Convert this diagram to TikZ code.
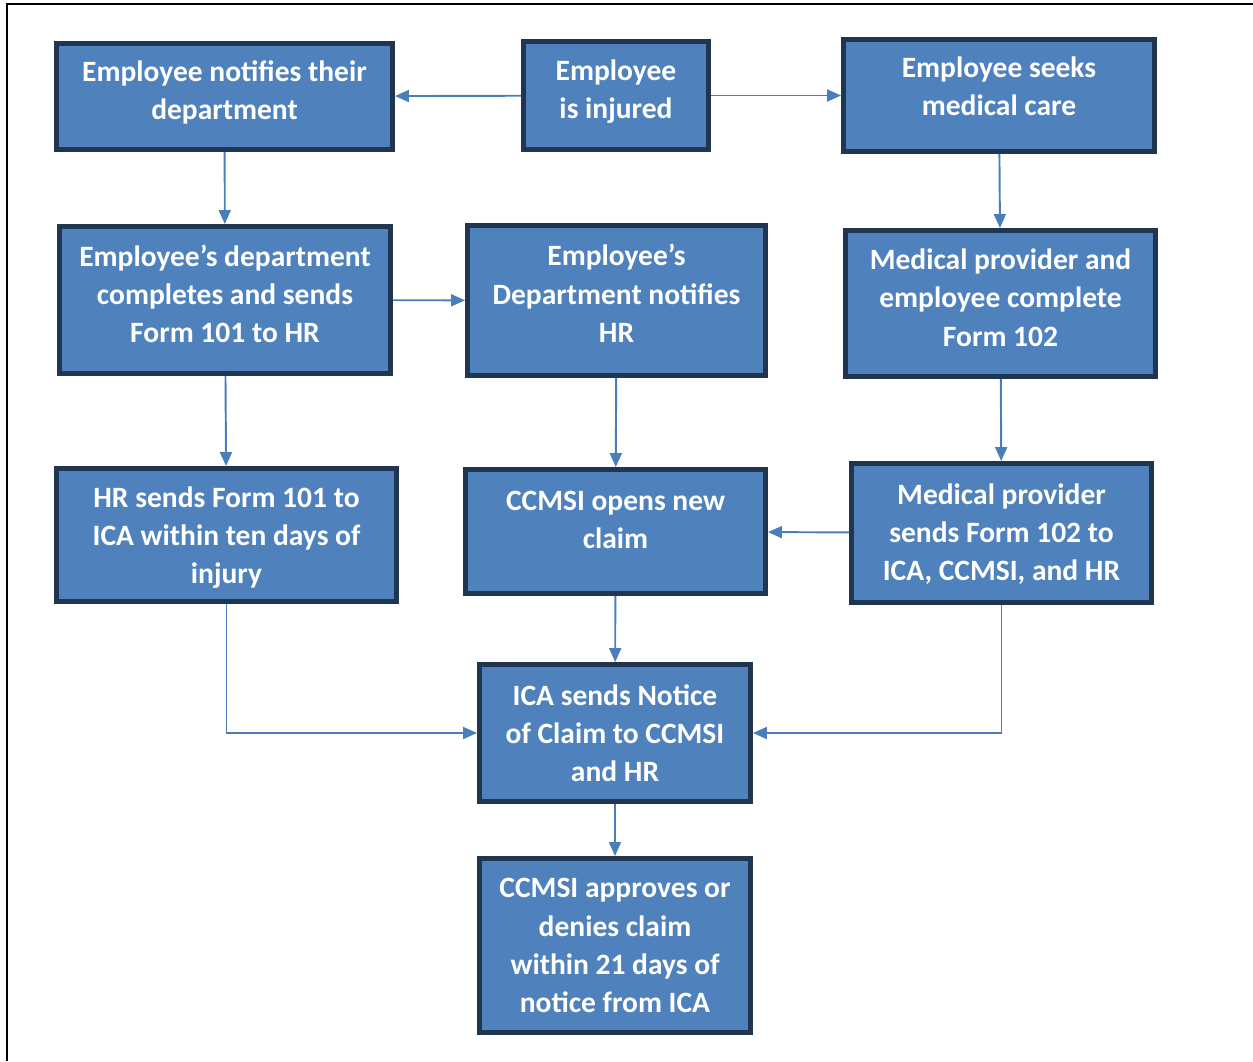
\documentclass[tikz,border=0pt]{standalone}
\usepackage{fontspec}
\setmainfont{Carlito}
\usetikzlibrary{arrows.meta}

\definecolor{boxblue}{HTML}{4F81BD}
\definecolor{boxedge}{HTML}{1F3550}
\definecolor{linkblue}{HTML}{4A7EBB}

\begin{document}
\begin{tikzpicture}[x=0.02cm,y=-0.02cm,>={Triangle[length=0.28cm,width=0.24cm]},
  stepbox/.style 2 args={draw=boxedge,line width=2.8pt,fill=boxblue,text=white,
    font=\fontsize{16.8}{21.8}\selectfont\bfseries,align=center,inner sep=0pt,
    text depth=7pt,
    minimum width={(#1-5)*0.02cm},minimum height={(#2-5)*0.02cm}},
  link/.style={->,draw=linkblue,line width=1.1pt}]
  \useasboundingbox (0,0) rectangle (1253,1061);

  % page frame
  \draw[line width=1.7pt] (1253,4) -- (7,4) -- (7,1061);

  % top row
  \node[stepbox={341}{111}] (notify) at (224.5,96.5) {Employee notifies their\\department};
  \node[stepbox={190}{113}] (injured) at (616,95.5) {Employee\\is injured};
  \node[stepbox={316}{117},text depth=11pt] (seeks) at (999,95.5) {Employee seeks\\medical care};

  % second row
  \node[stepbox={336}{152}] (deptform) at (225,300) {Employee’s department\\completes and sends\\Form 101 to HR};
  \node[stepbox={303}{155},text depth=8pt] (deptnotify) at (616.5,300.5) {Employee’s\\Department notifies\\HR};
  \node[stepbox={315}{151}] (medform) at (1000.5,303.5) {Medical provider and\\employee complete\\Form 102};

  % third row
  \node[stepbox={345}{138},text depth=0pt] (hrica) at (226.5,535) {HR sends Form 101 to\\ICA within ten days of\\injury};
  \node[stepbox={305}{129},text depth=13pt] (openclaim) at (615.5,531.5) {CCMSI opens new\\claim};
  \node[stepbox={305}{144},text depth=1pt] (medsend) at (1001.5,533) {Medical provider\\sends Form 102 to\\ICA, CCMSI, and HR};

  % bottom
  \node[stepbox={276}{142},text depth=0pt] (notice) at (615,733) {ICA sends Notice\\of Claim to CCMSI\\and HR};
  \node[stepbox={276}{179},text depth=0pt] (decide) at (615,945.5) {CCMSI approves or\\denies claim\\within 21 days of\\notice from ICA};

  \draw[link] (injured) -- (notify);
  \draw[link] (injured) -- (seeks);
  \draw[link] (notify) -- (deptform);
  \draw[link] (deptform) -- (deptnotify);
  \draw[link] (seeks) -- (medform);
  \draw[link] (deptform) -- (hrica);
  \draw[link] (deptnotify) -- (openclaim);
  \draw[link] (medform) -- (medsend);
  \draw[link] (medsend) -- (openclaim);
  \draw[link] (openclaim) -- (notice);
  \draw[link] (hrica) |- (notice);
  \draw[link] (medsend) |- (notice);
  \draw[link] (notice) -- (decide);
\end{tikzpicture}
\end{document}
